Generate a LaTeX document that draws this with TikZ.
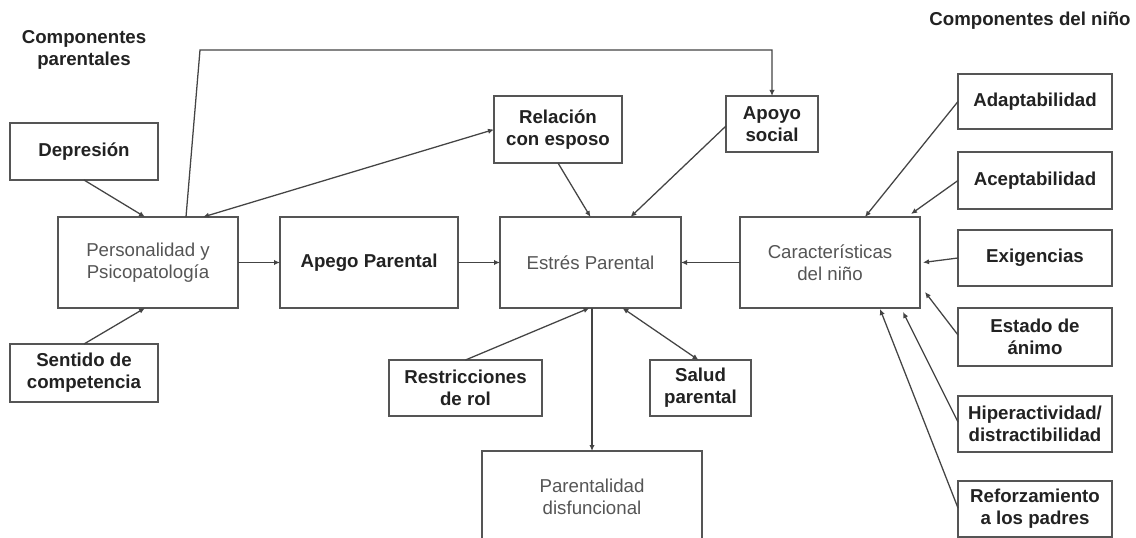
\documentclass[tikz,border=0pt]{standalone}
\usepackage{fontspec}
\setmainfont{Liberation Sans}
\usetikzlibrary{arrows.meta}
\definecolor{ln}{HTML}{444444}
\definecolor{bd}{HTML}{555555}
\definecolor{tb}{HTML}{222222}
\definecolor{tr}{HTML}{555555}
\newcommand\mkbox[7]{\node[#1, minimum width={(#5-#3)*0.75pt}, minimum height={(#6-#4)*0.75pt}] (#2) at ({(#3+#5)/2},{(#4+#6)/2}) {#7};}
\begin{document}
\begin{tikzpicture}[x=0.75pt,y=-0.75pt,
  every node/.style={font=\fontsize{14}{16.5}\selectfont, align=center, inner sep=0pt, outer sep=0pt},
  bbox/.style={draw=bd, line width=1.1pt, text=tb, font=\fontsize{14}{16.5}\selectfont\bfseries},
  rbox/.style={draw=bd, line width=1.1pt, text=tr},
  ttl/.style={text=tb, font=\fontsize{14}{16.5}\selectfont\bfseries},
  tip/.tip={Latex[length=4.5pt,width=4pt]},
  arr/.style={draw=ln, line width=0.95pt, -tip},
  darr/.style={draw=ln, line width=0.95pt, tip-tip}]
\useasboundingbox (0,0) rectangle (1136,538);
\clip (0,0) rectangle (1136,538);
\fill[white] (0,0) rectangle (1136,538);

% titles
\node[ttl] (t1) at (84,50) {Componentes\\parentales};
\node[ttl] (t2) at (1030,21) {Componentes del niño};

% left
\mkbox{bbox}{dep}{10}{123}{158}{180}{Depresión}
\mkbox{rbox}{pers}{58}{217}{238}{308}{Personalidad y\\Psicopatología}
\mkbox{bbox}{sen}{10}{344}{158}{402}{Sentido de\\competencia}
\mkbox{bbox}{ape}{280}{217}{458}{308}{Apego Parental}

% center
\mkbox{bbox}{rel}{494}{96}{622}{163}{Relación\\con esposo}
\mkbox{bbox}{apo}{726}{96}{818}{152}{Apoyo\\social}
\mkbox{rbox}{est}{500}{217}{681}{308}{Estrés Parental}
\mkbox{bbox}{res}{389}{360}{542}{416}{Restricciones\\de rol}
\mkbox{bbox}{sal}{650}{360}{751}{416}{Salud\\parental}
\mkbox{rbox}{par}{482}{451}{702}{543}{Parentalidad\\disfuncional}

% right
\mkbox{rbox}{car}{740}{217}{920}{308}{Características\\del niño}
\mkbox{bbox}{ada}{958}{74}{1112}{129}{Adaptabilidad}
\mkbox{bbox}{ace}{958}{152}{1112}{209}{Aceptabilidad}
\mkbox{bbox}{exi}{958}{230}{1112}{286}{Exigencias}
\mkbox{bbox}{ani}{958}{308}{1112}{366}{Estado de\\ánimo}
\mkbox{bbox}{hip}{958}{396}{1112}{452}{Hiperactividad/\\distractibilidad}
\mkbox{bbox}{ref}{958}{481}{1112}{537}{Reforzamiento\\a los padres}

% connectors
\coordinate (c1) at (200,50);
\draw[arr] (dep.south) -- ([shift={(-3,0)}]pers.north);
\draw[arr] (sen.north) -- ([shift={(-3,0)}]pers.south);
\draw[arr] ([shift={(38,0)}]pers.north) -- (c1) -- (c1 -| apo.north) -- (apo.north);
\draw[darr] ([shift={(55,0)}]pers.north) -- ([shift={(0,0)}]rel.west);
\draw[arr] (pers.east) -- (ape.west);
\draw[arr] (ape.east) -- (est.west);
\draw[arr] (rel.south) -- (est.north);
\draw[arr] ([shift={(0,2)}]apo.west) -- ([shift={(40,0)}]est.north);
\draw[arr] (car.west) -- (est.east);
\draw[arr] (res.north) -- ([shift={(-1,0)}]est.south);
\draw[darr] ([shift={(32,0)}]est.south) -- ([shift={(-2,0)}]sal.north);
\draw[arr] ([shift={(1.5,0)}]est.south) -- ([shift={(1.5,0)}]est.south |- par.north);

\draw[arr] (ada.west) -- ([shift={(35,0)}]car.north);
\draw[arr] (ace.west) -- ([shift={(81,-3)}]car.north);
\draw[arr] (exi.west) -- ([shift={(3,0)}]car.east);
\draw[arr] ([shift={(0,-2)}]ani.west) -- ([shift={(5,29.5)}]car.east);
\draw[arr] ([shift={(0,-2)}]hip.west) -- ([shift={(73,4)}]car.south);
\draw[arr] ([shift={(0,-1)}]ref.west) -- ([shift={(50,1)}]car.south);
\end{tikzpicture}
\end{document}
